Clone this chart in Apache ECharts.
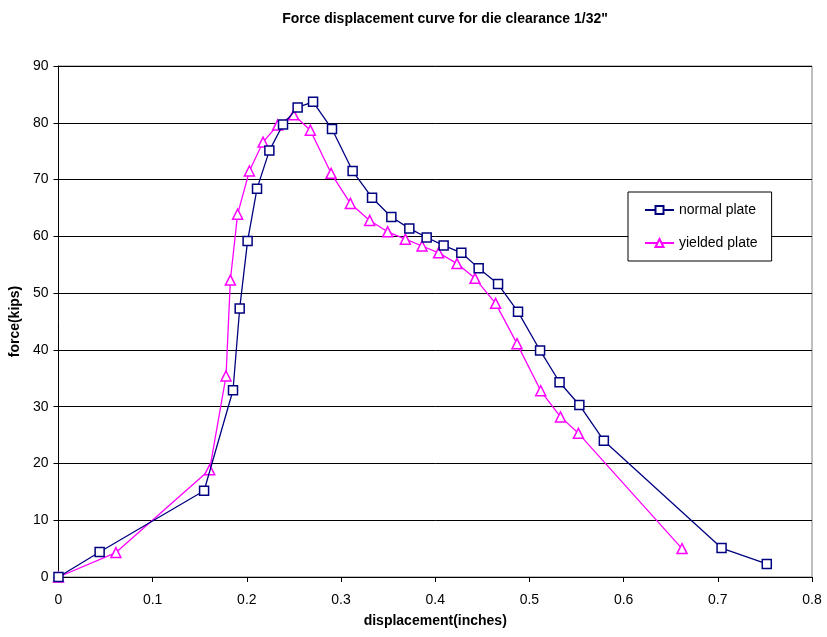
<!DOCTYPE html>
<html>
<head>
<meta charset="utf-8">
<script src="https://cdn.jsdelivr.net/npm/echarts@6/dist/echarts.min.js"></script>
<style>
    html, body { margin: 0; padding: 0; background: #fff; }
    #chart { width: 827px; height: 637px; }
</style>
</head>
<body>
<div id="chart"></div>
<script>
// displacement (inches) / force (kips)
var normalX = [0, 0.0437, 0.1546, 0.1853, 0.1924, 0.2008, 0.2108, 0.2239, 0.2384, 0.2539, 0.2703,
    0.2904, 0.3123, 0.3329, 0.3534, 0.3725, 0.3909, 0.4089, 0.4277, 0.4461, 0.4667, 0.4879,
    0.5113, 0.532, 0.553, 0.579, 0.704, 0.752];
var normalY = [0, 4.4, 15.2, 32.9, 47.3, 59.2, 68.4, 75.1, 79.7, 82.7, 83.7,
    78.9, 71.5, 66.8, 63.4, 61.4, 59.8, 58.4, 57.1, 54.4, 51.6, 46.7,
    39.9, 34.3, 30.3, 24.0, 5.1, 2.3];

var yieldedX = [0, 0.061, 0.1605, 0.1779, 0.1825, 0.1902, 0.2027, 0.2172, 0.2327, 0.2497, 0.2674,
    0.2894, 0.3099, 0.3304, 0.3495, 0.3683, 0.386, 0.4036, 0.4231, 0.4422, 0.4641, 0.4868,
    0.512, 0.533, 0.552, 0.662];
var yieldedY = [0, 4.3, 18.9, 35.4, 52.3, 63.9, 71.5, 76.6, 79.6, 81.4, 78.7,
    71.1, 65.8, 62.8, 60.8, 59.5, 58.3, 57.1, 55.2, 52.6, 48.2, 41.1,
    32.8, 28.2, 25.3, 5.0];

var seriesNames = ['normal plate', 'yielded plate'];

function pairs(xs, ys) {
    var out = [];
    for (var i = 0; i < xs.length; i++) {
        out.push([xs[i], ys[i]]);
    }
    return out;
}

var chart = echarts.init(document.getElementById('chart'));
var font = 'Arial, "Liberation Sans", sans-serif';

var option = {
    animation: false,
    backgroundColor: '#fff',
    textStyle: { fontFamily: font },
    title: {
        text: 'Force displacement curve for die clearance 1/32"',
        left: 440,
        textAlign: 'center',
        top: 7,
        textStyle: { fontFamily: font, fontSize: 14, fontWeight: 'bold', color: '#000' }
    },
    legend: {
        orient: 'vertical',
        left: 628,
        top: 192,
        data: seriesNames,
        backgroundColor: '#fff',
        borderColor: '#000',
        borderWidth: 1,
        padding: [11, 14, 11, 16],
        itemGap: 19,
        itemWidth: 29,
        itemHeight: 10,
        textStyle: { fontFamily: font, fontSize: 14, color: '#000' }
    },
    grid: {
        left: 58,
        top: 66,
        right: 15,
        bottom: 60,
        show: true,
        borderColor: '#808080',
        borderWidth: 1
    },
    xAxis: {
        type: 'value',
        min: 0,
        max: 0.8,
        interval: 0.1,
        name: 'displacement(inches)',
        nameLocation: 'middle',
        nameGap: 37,
        nameTextStyle: { fontFamily: font, fontSize: 14, fontWeight: 'bold', color: '#000' },
        axisLine: { lineStyle: { color: '#000', width: 1 } },
        axisTick: { show: true, length: 5, lineStyle: { color: '#000' } },
        axisLabel: { fontFamily: font, fontSize: 14, color: '#000', margin: 16 },
        splitLine: { show: false }
    },
    yAxis: {
        type: 'value',
        min: 0,
        max: 90,
        interval: 10,
        name: 'force(kips)',
        nameLocation: 'middle',
        nameGap: 33,
        nameTextStyle: { fontFamily: font, fontSize: 14, fontWeight: 'bold', color: '#000' },
        axisLine: { show: true, lineStyle: { color: '#000', width: 1 } },
        axisTick: { show: true, length: 5, lineStyle: { color: '#000' } },
        axisLabel: { fontFamily: font, fontSize: 14, color: '#000', margin: 10 },
        splitLine: { show: true, lineStyle: { color: '#000', width: 1 } }
    },
    series: [
        {
            name: seriesNames[0],
            type: 'line',
            data: pairs(normalX, normalY),
            symbol: 'rect',
            symbolSize: 9,
            showAllSymbol: true,
            lineStyle: { color: '#000080', width: 1.3 },
            itemStyle: { color: '#fff', borderColor: '#000080', borderWidth: 1.5 },
            z: 3
        },
        {
            name: seriesNames[1],
            type: 'line',
            data: pairs(yieldedX, yieldedY),
            symbol: 'triangle',
            symbolSize: 10,
            showAllSymbol: true,
            lineStyle: { color: '#ff00ff', width: 1.3 },
            itemStyle: { color: '#fff', borderColor: '#ff00ff', borderWidth: 1.5 },
            z: 2
        }
    ]
};

chart.setOption(option);
</script>
</body>
</html>
